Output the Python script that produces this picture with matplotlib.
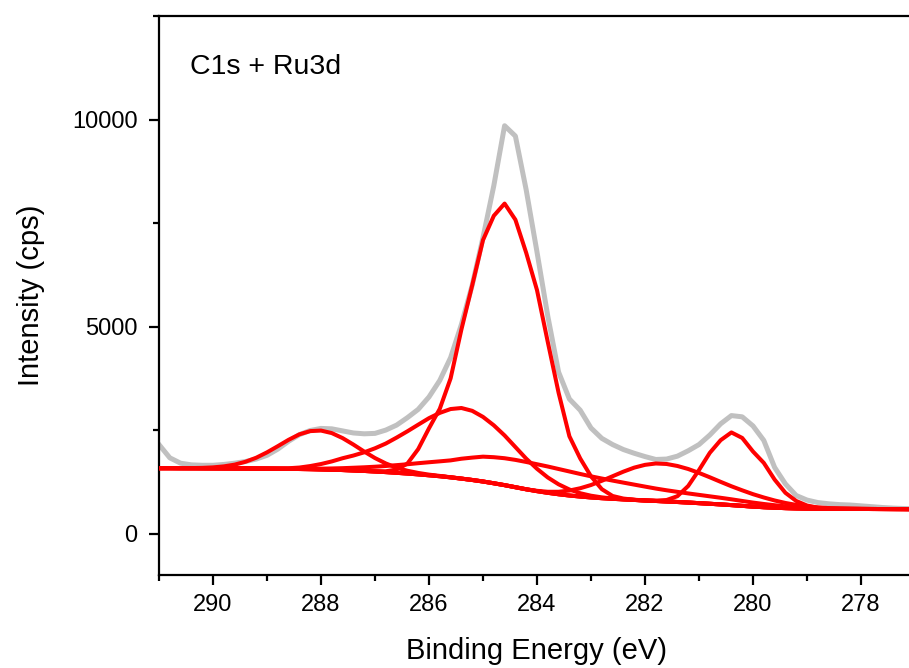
import matplotlib
matplotlib.use("Agg")
import matplotlib.pyplot as plt
from matplotlib.ticker import MultipleLocator
import numpy as np

# binding energy grid (eV), 0.2 eV steps as in the scan
energy = [291.0, 290.8, 290.6, 290.4, 290.2, 290.0, 289.8, 289.6, 289.4, 289.2,
          289.0, 288.8, 288.6, 288.4, 288.2, 288.0, 287.8, 287.6, 287.4, 287.2,
          287.0, 286.8, 286.6, 286.4, 286.2, 286.0, 285.8, 285.6, 285.4, 285.2,
          285.0, 284.8, 284.6, 284.4, 284.2, 284.0, 283.8, 283.6, 283.4, 283.2,
          283.0, 282.8, 282.6, 282.4, 282.2, 282.0, 281.8, 281.6, 281.4, 281.2,
          281.0, 280.8, 280.6, 280.4, 280.2, 280.0, 279.8, 279.6, 279.4, 279.2,
          279.0, 278.8, 278.6, 278.4, 278.2, 278.0, 277.8, 277.6, 277.4, 277.2,
          277.0]

# measured spectrum (cps)
measured = [2150, 1830, 1700, 1660, 1650, 1650, 1670, 1700, 1740, 1800,
            1890, 2040, 2230, 2390, 2490, 2540, 2530, 2480, 2430, 2410,
            2420, 2500, 2620, 2800, 3000, 3300, 3700, 4250, 5050, 6000,
            7150, 8400, 9850, 9600, 8300, 6800, 5250, 3900, 3250, 2980,
            2550, 2300, 2150, 2030, 1940, 1860, 1790, 1800, 1870, 2000,
            2150, 2380, 2650, 2850, 2820, 2600, 2250, 1600, 1200, 920,
            810, 750, 720, 700, 690, 670, 650, 630, 615, 605,
            600]

# Shirley background (cps)
background = [1580, 1580, 1579, 1578, 1577, 1576, 1575, 1574, 1573, 1571,
              1569, 1566, 1563, 1560, 1556, 1550, 1543, 1535, 1525, 1513,
              1500, 1485, 1468, 1450, 1430, 1408, 1385, 1358, 1328, 1295,
              1258, 1215, 1170, 1120, 1070, 1025, 985, 950, 920, 895,
              873, 855, 840, 826, 813, 800, 788, 776, 763, 750,
              735, 720, 705, 688, 670, 652, 637, 625, 615, 608,
              603, 600, 598, 597, 596, 595, 594, 593, 592, 591,
              590]

# fitted components, intensity above background (cps)
peak_288 = [0, 0, 0, 4, 10, 23, 48, 91, 161, 261,
            393, 545, 702, 837, 919, 938, 884, 771, 625, 468,
            324, 209, 123, 68, 35, 16, 8, 3, 0, 0] + [0] * 41

peak_2855 = [0, 0, 0, 0, 0, 0, 0, 0, 0, 0,
             3, 8, 15, 35, 75, 130, 200, 285, 360, 450,
             560, 690, 850, 1020, 1200, 1380, 1530, 1650, 1705, 1670,
             1560, 1400, 1200, 970, 740, 540, 370, 240, 145, 80,
             42, 20, 8, 3, 0, 0, 0, 0, 0, 0] + [0] * 21

peak_broad = [0, 0, 0, 0, 0, 0, 0, 0, 0, 0,
              0, 0, 0, 5, 10, 18, 30, 45, 65, 88,
              115, 148, 185, 225, 270, 315, 360, 410, 480, 540,
              600, 630, 650, 660, 660, 650, 635, 610, 580, 545,
              510, 475, 440, 405, 370, 335, 300, 270, 245, 220,
              200, 180, 160, 140, 118, 97, 78, 60, 44, 30,
              18, 9, 4, 0, 0, 0, 0, 0, 0, 0,
              0]

peak_2846 = [0] * 20 + [
    5, 20, 80, 240, 610, 1135, 1630, 2390, 3600, 4700,
    5830, 6460, 6800, 6460, 5710, 4855, 3640, 2450, 1430, 920,
    510, 218, 68, 20, 5] + [0] * 26

peak_2817 = [0] * 35 + [
    8, 25, 60, 120, 200, 300, 420, 545, 670, 780,
    860, 905, 905, 870, 810, 730, 640, 545, 455, 375,
    300, 235, 175, 125, 85, 55, 33, 18, 8, 3] + [0] * 6

peak_2804 = [0] * 46 + [
    8, 35, 140, 400, 800, 1230, 1550, 1755, 1640, 1330,
    1070, 680, 370, 180, 75, 25, 8, 2] + [0] * 7

components = [peak_288, peak_2855, peak_broad, peak_2846, peak_2817, peak_2804]

plt.rcParams["font.family"] = ["Liberation Sans", "DejaVu Sans"]

fig = plt.figure(figsize=(9.09, 6.68), dpi=100)
ax = fig.add_axes([159 / 909, 93 / 668, 756 / 909, 559 / 668])

x = np.array(energy)
bg = np.array(background)

ax.plot(x, measured, color="#c0c0c0", lw=3.6, zorder=2)
ax.plot(x, bg, color="#ff0000", lw=2.9, zorder=3)
for comp in components:
    ax.plot(x, bg + np.array(comp), color="#ff0000", lw=2.9, zorder=3)

ax.set_xlim(291, 277)
ax.set_ylim(-1000, 12500)
ax.xaxis.set_major_locator(MultipleLocator(2))
ax.xaxis.set_minor_locator(MultipleLocator(1))
ax.yaxis.set_major_locator(MultipleLocator(5000))
ax.yaxis.set_minor_locator(MultipleLocator(2500))

ax.tick_params(which="both", direction="out", width=1.6, top=False, right=False,
               labelsize=17)
ax.tick_params(which="major", length=7.5)
ax.tick_params(axis="x", which="major", pad=6)
ax.tick_params(axis="y", which="major", pad=8)
ax.tick_params(which="minor", length=4)
for side in ["left", "bottom", "top"]:
    ax.spines[side].set_linewidth(1.6)
ax.spines["right"].set_visible(False)

ax.set_xlabel("Binding Energy (eV)", fontsize=21, labelpad=15)
ax.set_ylabel("Intensity (cps)", fontsize=21, labelpad=19)
ax.text(0.041, 0.896, "C1s + Ru3d", transform=ax.transAxes, fontsize=20.5,
        va="baseline", ha="left")

fig.savefig("out.png", dpi=100)
plt.close(fig)
